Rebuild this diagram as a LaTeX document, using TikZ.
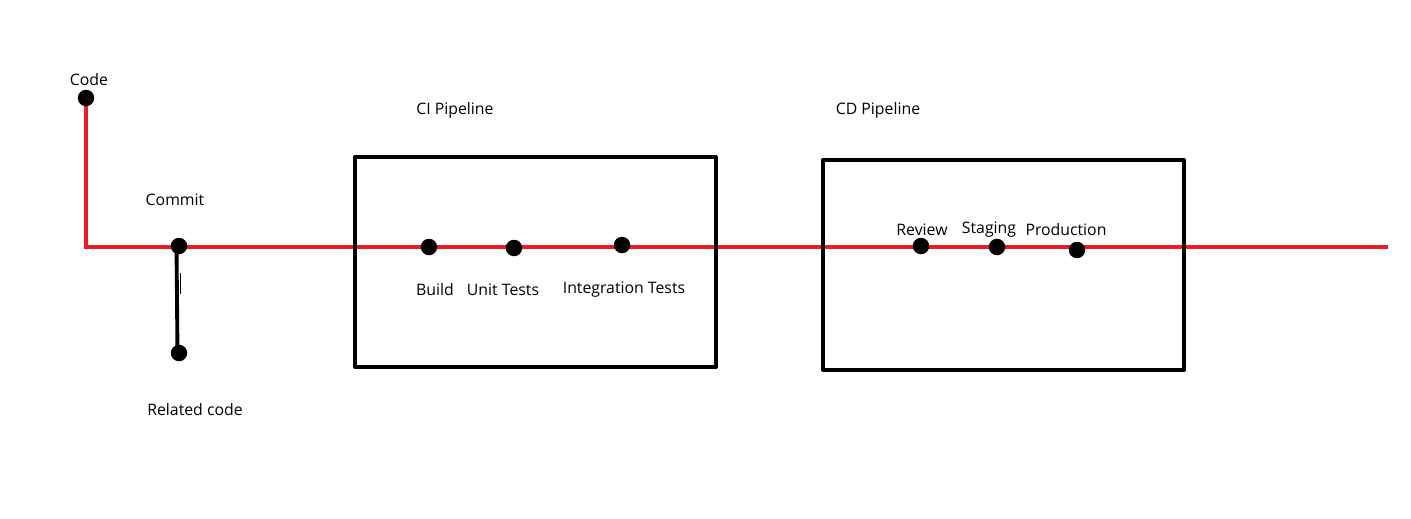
\documentclass[tikz,border=0pt]{standalone}
\usepackage{fontspec}
\setmainfont{Open Sans}
\usetikzlibrary{positioning,backgrounds}
\tikzset{
  stage dot/.style={circle,fill=black,inner sep=0pt,minimum size=0.33cm},
  stage label/.style={font=\fontsize{9}{11}\selectfont,inner sep=1pt},
  pipe box/.style={draw=black,line width=2.3pt,line join=round}
}
\begin{document}
\begin{tikzpicture}[x=0.02cm,y=-0.02cm]

    \useasboundingbox (0,0) rectangle (1411,518);

    \definecolor{flowred}{HTML}{ED1C24}

    % pipeline boxes
    \draw[pipe box] (355,157) rectangle (716,367);
    \draw[pipe box] (823,160) rectangle (1184,370);

    \node[stage dot] (code) at (86,98) {};
    \node[stage dot] (commit) at (179,246) {};
    \node[stage dot] (related) at (179,353) {};

    \node[stage dot] (build) at (429,247) {};
    \node[stage dot] (unit) at (514,248) {};
    \node[stage dot] (integ) at (622,245) {};

    \node[stage dot] (review) at (921,246) {};
    \node[stage dot] (staging) at (997,247) {};
    \node[stage dot] (prod) at (1077,250) {};

    \coordinate (corner) at (86,247);
    \coordinate (lineend) at (1388,247);
    \coordinate (tickA) at (180.6,273);
    \coordinate (tickB) at (180.6,294);

    \begin{scope}[on background layer]
      \draw[line width=2.3pt,flowred] (code.center)--(corner)--(lineend);
      \draw[line width=2.2pt,black] ([xshift=-0.05cm]commit.center)--([xshift=-0.03cm]related.center);
    \end{scope}
    \draw[line width=0.8pt,black] (tickA)--(tickB);

    \node[stage label] at (89,80) {Code};
    \node[stage label] at (175,200) {Commit};
    \node[stage label] at (195,410) {Related code};

    \node[stage label] at (455,110) {CI Pipeline};
    \node[stage label] at (878,110) {CD Pipeline};

    \node[stage label] at (435,290) {Build};
    \node[stage label] at (503,290) {Unit Tests};
    \node[stage label] at (624,290) {Integration Tests};

    \node[stage label] at (922,230) {Review};
    \node[stage label] at (989,230) {Staging};
    \node[stage label] at (1066,230) {Production};

\end{tikzpicture}
\end{document}
